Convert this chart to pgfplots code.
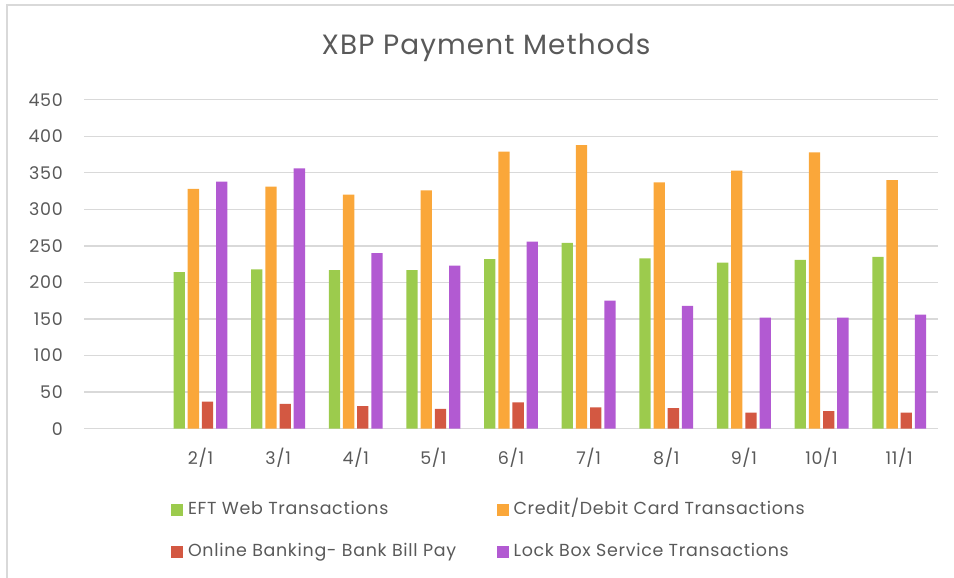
\documentclass[border=0pt]{standalone}
\usepackage{pgfplots}
\pgfplotsset{compat=1.18}
\usepackage{fontspec}
\setmainfont{Poppins}
\newfontfamily\wide{Poppins}[LetterSpace=4]
\definecolor{cgreen}{RGB}{156,203,77}
\definecolor{corange}{RGB}{250,167,58}
\definecolor{cred}{RGB}{211,88,66}
\definecolor{cpurple}{RGB}{178,90,210}
\definecolor{tgray}{RGB}{89,89,89}
\definecolor{ggray}{RGB}{217,217,217}
\begin{document}
\begin{tikzpicture}[x=1bp,y=1bp]
\path[use as bounding box] (0,0) rectangle (954,578);
\draw[ggray, line width=1.3bp] (7,0) -- (7,573) -- (954,573);
\node[text=tgray, font=\wide\fontsize{28}{34}\selectfont] at (486,530) {XBP Payment Methods};
\begin{axis}[
  at={(84bp,149.3bp)}, anchor=south west,
  scale only axis, width=854bp, height=329bp,
  ybar=2.9bp, bar width=11.3bp,
  xmin=-0.5, xmax=10.5, ymin=0, ymax=450,
  xtick={1,2,3,4,5,6,7,8,9,10},
  xticklabels={2/1,3/1,4/1,5/1,6/1,7/1,8/1,9/1,10/1,11/1},
  ytick={0,50,...,450},
  ymajorgrids, grid style={ggray, line width=1.3bp},
  axis line style={draw=none},
  major tick length=0pt,
  tick label style={font=\wide\fontsize{17.5}{20}\selectfont, text=tgray},
  /pgf/number format/assume math mode=true,
  yticklabel style={inner sep=0pt, anchor=east, xshift=-21bp},
  xticklabel style={inner sep=0pt, anchor=north, yshift=-19bp},
  legend columns=2,
  legend cell align=left,
  legend image code/.code={\fill[#1] (0bp,-6bp) rectangle (12bp,6bp);},
  legend style={draw=none, fill=none, inner sep=0pt, outer sep=0pt,
    at={(0.1019,-0.3109)}, anchor=west,
    font=\wide\fontsize{17.5}{20}\selectfont, text=tgray,
    nodes={inner sep=0pt, text height=12.5bp, text depth=4bp},
    row sep=25.5bp,
    /tikz/every odd column/.append style={column sep=5bp},
    /tikz/every even column/.append style={column sep=8.5bp}},
]
\addplot[fill=cgreen, draw=none] coordinates {(1,214) (2,218) (3,217) (4,217) (5,232) (6,254) (7,233) (8,227) (9,231) (10,235)};
\addlegendentry{\makebox[300bp][l]{EFT Web Transactions}}
\addplot[fill=corange, draw=none] coordinates {(1,328) (2,331) (3,320) (4,326) (5,379) (6,388) (7,337) (8,353) (9,378) (10,340)};
\addlegendentry{Credit/Debit Card Transactions}
\addplot[fill=cred, draw=none] coordinates {(1,37) (2,34) (3,31) (4,27) (5,36) (6,29) (7,28) (8,22) (9,24) (10,22)};
\addlegendentry{\makebox[300bp][l]{Online Banking- Bank Bill Pay}}
\addplot[fill=cpurple, draw=none] coordinates {(1,338) (2,356) (3,240) (4,223) (5,256) (6,175) (7,168) (8,152) (9,152) (10,156)};
\addlegendentry{Lock Box Service Transactions}
\end{axis}
\end{tikzpicture}
\end{document}
